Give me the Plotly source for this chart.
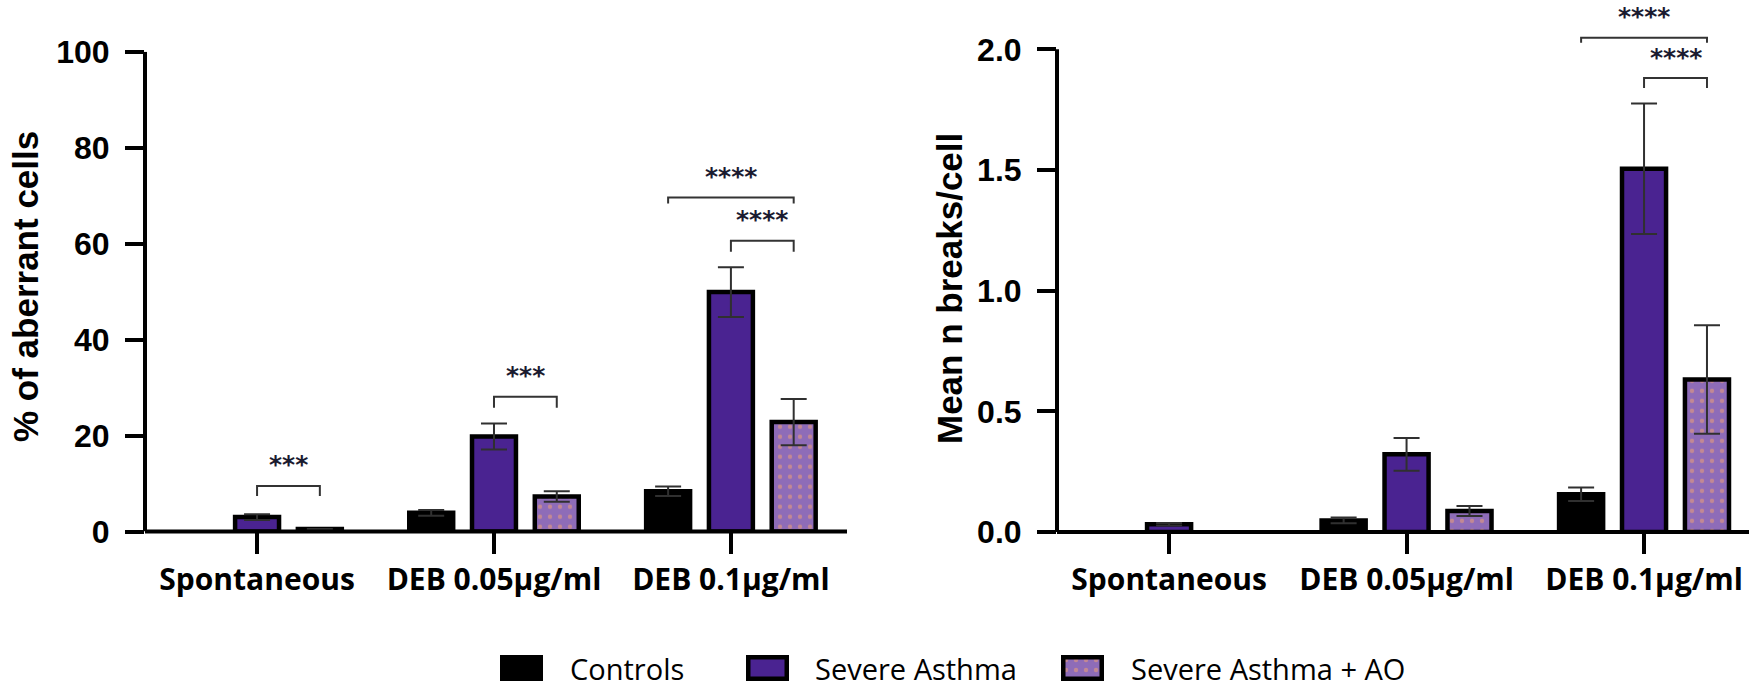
import plotly.graph_objects as go

# ---------------- data ----------------
categories = ["Spontaneous", "DEB 0.05µg/ml", "DEB 0.1µg/ml"]
series_names = ["Controls", "Severe Asthma", "Severe Asthma + AO"]

# left panel: % of aberrant cells (mean, error)
pct_controls = [0.0, 3.9, 8.4]
pct_controls_err = [0.0, 0.6, 1.0]
pct_sa = [3.0, 19.8, 49.9]
pct_sa_err = [0.6, 2.7, 5.2]
pct_ao = [0.5, 7.3, 22.8]
pct_ao_err = [0.0, 1.1, 4.8]

# right panel: mean n breaks/cell (mean, error)
brk_controls = [0.0, 0.048, 0.156]
brk_controls_err = [0.0, 0.012, 0.028]
brk_sa = [0.032, 0.322, 1.505]
brk_sa_err = [0.005, 0.068, 0.27]
brk_ao = [0.0, 0.087, 0.632]
brk_ao_err = [0.0, 0.021, 0.225]

# significance brackets: (category index, series a, series b, bracket height, label)
pct_sig = [(0, 1, 2, 9.5, "***"), (1, 1, 2, 28.1, "***"),
           (2, 0, 2, 69.6, "****"), (2, 1, 2, 60.6, "****")]
brk_sig = [(2, 0, 2, 2.048, "****"), (2, 1, 2, 1.881, "****")]
pct_leg_drop = [10, 11, 6, 11]
brk_leg_drop = [5, 10]

pct_ticks = [0, 20, 40, 60, 80, 100]
brk_ticks = [0.0, 0.5, 1.0, 1.5, 2.0]

# ---------------- styles ----------------
W, H = 1749, 688
colors = ["#000000", "#4a2391", "#8e6cb8"]
dot_color = "#f5a36f"
BORDER = 4.5
BARGAP, GROUPGAP = 0.205, 0.30
slot = (1 - BARGAP) / len(series_names)
offsets = [(i - (len(series_names) - 1) / 2) * slot for i in range(len(series_names))]

tick_font = dict(family="Liberation Sans, Arial", size=32, color="black", weight="bold")
cat_font = dict(family="Open Sans", size=30, color="black", weight="bold")
title_font = dict(family="Liberation Sans, Arial", size=35, color="black", weight="bold")
legend_font = dict(family="Open Sans", size=29, color="black")
star_font = dict(family="DejaVu Sans", size=25, color="#1b1b30", weight="bold")


def marker_for(i, vals=None):
    widths = BORDER if vals is None else [BORDER if v > 0 else 0 for v in vals]
    m = dict(color=colors[i], line=dict(color="black", width=widths))
    if i == 2:
        m["pattern"] = dict(shape=".", fgcolor=dot_color, size=10, solidity=0.15,
                            fillmode="overlay")
    return m


fig = go.Figure()
xs = list(range(len(categories)))

panels = [
    ("x", "y", [pct_controls, pct_sa, pct_ao], [pct_controls_err, pct_sa_err, pct_ao_err]),
    ("x2", "y2", [brk_controls, brk_sa, brk_ao], [brk_controls_err, brk_sa_err, brk_ao_err]),
]
for xa, ya, vals, errs in panels:
    for i, name in enumerate(series_names):
        fig.add_trace(go.Bar(
            x=xs, y=vals[i], name=name, xaxis=xa, yaxis=ya, showlegend=False,
            marker=marker_for(i, vals[i]),
            error_y=dict(type="data", array=errs[i], visible=True,
                         color="#303030", thickness=2, width=13),
        ))

# legend keys drawn as miniature bars in tiny hidden subplots
key_x_px = [500, 746, 1061]
key_w_px, key_top_px, key_bot_px = 43, 655, 681
text_x_px = [568, 813, 1129]
text_mid_px = 668
for i, name in enumerate(series_names):
    n = i + 3
    fig.add_trace(go.Bar(x=[0], y=[1], width=[1], xaxis=f"x{n}", yaxis=f"y{n}",
                         showlegend=False, marker=marker_for(i), hoverinfo="skip"))
    inner_w = key_w_px - BORDER
    inner_h = (key_bot_px - key_top_px) - BORDER
    mx = (BORDER / 2) / inner_w
    my = (BORDER / 2) / inner_h
    fig.layout[f"xaxis{n}"] = dict(domain=[key_x_px[i] / W, (key_x_px[i] + key_w_px) / W],
                                   range=[-0.5 - mx, 0.5 + mx], visible=False,
                                   anchor=f"y{n}", fixedrange=True, automargin=False)
    fig.layout[f"yaxis{n}"] = dict(domain=[(H - key_bot_px) / H, (H - key_top_px) / H],
                                   range=[-my, 1 + my], visible=False,
                                   anchor=f"x{n}", fixedrange=True, automargin=False)
    fig.add_annotation(x=text_x_px[i] / W, y=(H - text_mid_px) / H, xref="paper",
                       yref="paper", text=name, showarrow=False, xanchor="left",
                       yanchor="middle", font=legend_font)

# ---------------- axes ----------------
left_dom = [145 / W, 847 / W]
right_dom = [1057 / W, 1.0]
y_dom_left = [(H - 531.5) / H, (H - 51.7) / H]
y_right_max = 2.18
px_per_unit_right = (532 - 49.3) / 2.0
y_dom_right = [(H - 532) / H, (H - 532 + px_per_unit_right * y_right_max) / H]

common_x = dict(tickmode="array", tickvals=xs, ticktext=categories, showline=False,
                ticks="outside", ticklen=21,
                tickwidth=4, tickcolor="black", tickfont=cat_font, showgrid=False,
                zeroline=False, fixedrange=True, ticklabelstandoff=0, automargin=False)
common_y = dict(showline=False, ticks="outside", ticklen=19, tickwidth=4,
                tickcolor="black", tickfont=tick_font, showgrid=False, zeroline=False,
                fixedrange=True, ticklabelstandoff=9, automargin=False)

fig.update_layout(
    xaxis=dict(domain=left_dom, range=[-0.473, 2.49], anchor="y", **common_x),
    yaxis=dict(domain=y_dom_left, range=[0, 100], tickvals=pct_ticks, anchor="x", **common_y),
    xaxis2=dict(domain=right_dom, range=[-0.472, 2.442], anchor="y2", **common_x),
    yaxis2=dict(domain=y_dom_right, range=[0, y_right_max], tickvals=brk_ticks,
                tickformat=".1f", anchor="x2", **common_y),
)

# axis lines: y-axis stops at the top tick, x-axis runs along zero
for xa, ya, top in [("x", "y", pct_ticks[-1]), ("x2", "y2", brk_ticks[-1])]:
    fig.add_shape(type="line", xref=f"{xa} domain", yref=ya, x0=0, x1=0, y0=0, y1=top,
                  line=dict(color="black", width=4), layer="above")
    fig.add_shape(type="line", xref=f"{xa} domain", yref=f"{ya} domain", x0=0, x1=1,
                  y0=0, y1=0, line=dict(color="black", width=4), layer="above")

# significance brackets
for xa, ya, sigs, drops in [("x", "y", pct_sig, pct_leg_drop), ("x2", "y2", brk_sig, brk_leg_drop)]:
    for (g, a, b, h, lab), d in zip(sigs, drops):
        x0 = g + offsets[a]
        x1 = g + offsets[b]
        fig.add_shape(type="path", xref=xa, yref=ya, ysizemode="pixel", yanchor=h,
                      path=f"M{x0},{-d} L{x0},0 L{x1},0 L{x1},{-d}",
                      line=dict(color="#333333", width=2))
        fig.add_annotation(x=(x0 + x1) / 2, y=h, xref=xa, yref=ya, text=lab,
                           showarrow=False, yanchor="middle", yshift=21, font=star_font)

# y-axis titles
fig.add_annotation(x=25 / W, y=(H - 287) / H, xref="paper", yref="paper",
                   text="% of aberrant cells", textangle=-90, showarrow=False,
                   xanchor="center", yanchor="middle", font=title_font)
fig.add_annotation(x=949 / W, y=(H - 289) / H, xref="paper", yref="paper",
                   text="Mean n breaks/cell", textangle=-90, showarrow=False,
                   xanchor="center", yanchor="middle", font=title_font)

fig.update_layout(
    width=W, height=H, autosize=False,
    margin=dict(l=0, r=0, t=0, b=0, autoexpand=False),
    paper_bgcolor="white", plot_bgcolor="white",
    barmode="group", bargap=BARGAP, bargroupgap=GROUPGAP,
    showlegend=False,
)

# remove the default page margin so the figure sits at the window's top-left corner
fig.write_html("out.html", config={"displayModeBar": False},
               post_script="document.body.style.margin='0';document.body.style.overflow='hidden';")
